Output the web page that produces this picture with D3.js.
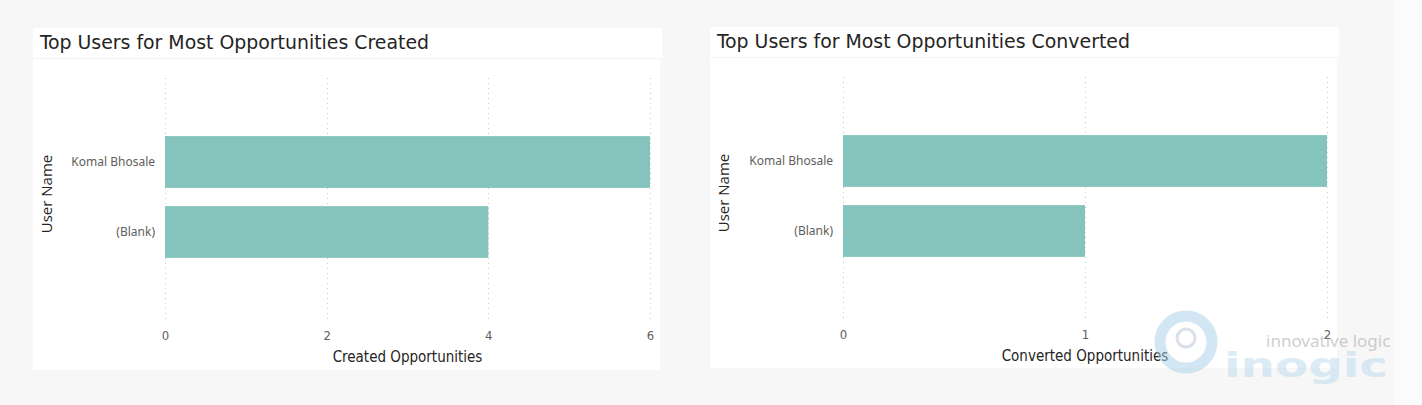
<!DOCTYPE html>
<html>
<head>
<meta charset="utf-8">
<script src="https://cdn.jsdelivr.net/npm/d3@7"></script>
<style>
  body { margin: 0; background: #f7f7f7; }
  svg { display: block; }
</style>
</head>
<body>
<svg id="chart" width="1422" height="405"></svg>
<script>
const users = ["Komal Bhosale", "(Blank)"];
const createdValues = [6, 4];
const convertedValues = [2, 1];
const createdTicks = [0, 2, 4, 6];
const convertedTicks = [0, 1, 2];

const titleFont = "'DejaVu Sans Condensed', 'Liberation Sans Narrow', sans-serif";
const labelFont = "'Noto Sans', 'Open Sans', sans-serif";
const barColor = "#85c4bd";

const svg = d3.select("#chart");

// right white strip
svg.append("rect").attr("x", 1394).attr("y", 0).attr("width", 28).attr("height", 405).attr("fill", "#fbfbfb");

function drawPanel(opts) {
  const g = svg.append("g");

  // title box + chart box
  g.append("rect").attr("x", opts.x).attr("y", opts.y).attr("width", opts.w + 2).attr("height", 30).attr("fill", "#fff");
  g.append("rect").attr("x", opts.x).attr("y", opts.y + 30).attr("width", opts.w).attr("height", opts.h - 30).attr("fill", "#fff");
  g.append("line")
    .attr("x1", opts.x).attr("x2", opts.x + opts.w)
    .attr("y1", opts.y + 30.5).attr("y2", opts.y + 30.5)
    .attr("stroke", "#f3f3f3");

  g.append("text")
    .attr("x", opts.x + 7)
    .attr("y", opts.y + 21)
    .attr("font-family", titleFont)
    .attr("font-size", 19)
    .attr("fill", "#252423")
    .attr("textLength", opts.titleLen)
    .attr("lengthAdjust", "spacingAndGlyphs")
    .text(opts.title);

  const x = d3.scaleLinear()
    .domain([0, d3.max(opts.ticks)])
    .range([opts.x0, opts.x1]);

  const y = d3.scaleBand()
    .domain(users)
    .range([opts.y + 99, opts.y + 239])
    .paddingInner(0.26)
    .paddingOuter(0.13);

  // dotted grid
  g.selectAll(".grid")
    .data(opts.ticks)
    .enter()
    .append("line")
    .attr("x1", d => Math.round(x(d)) + 0.5)
    .attr("x2", d => Math.round(x(d)) + 0.5)
    .attr("y1", opts.y + 50)
    .attr("y2", opts.y + 291)
    .attr("stroke", "#c8c8c8")
    .attr("stroke-dasharray", "1,4");

  g.selectAll(".bar")
    .data(opts.values)
    .enter()
    .append("rect")
    .attr("x", x(0))
    .attr("y", (d, i) => y(users[i]))
    .attr("width", d => x(d) - x(0))
    .attr("height", y.bandwidth())
    .attr("fill", barColor);

  const xAxis = g.append("g")
    .attr("transform", `translate(0,${opts.y + 291})`)
    .call(d3.axisBottom(x).tickValues(opts.ticks).tickSize(0).tickPadding(12).tickFormat(d3.format("d")));
  xAxis.select(".domain").remove();
  xAxis.selectAll("text")
    .attr("font-family", titleFont)
    .attr("font-size", 13)
    .attr("fill", "#605e5c");

  const yAxis = g.append("g")
    .attr("transform", `translate(${opts.x0 - 10},0)`)
    .call(d3.axisLeft(y).tickSize(0).tickPadding(0));
  yAxis.select(".domain").remove();
  yAxis.selectAll("text")
    .attr("font-family", labelFont)
    .attr("font-size", 12)
    .attr("fill", "#605e5c");

  g.append("text")
    .attr("x", (opts.x0 + opts.x1) / 2)
    .attr("y", opts.y + 334)
    .attr("text-anchor", "middle")
    .attr("font-family", titleFont)
    .attr("font-size", 15)
    .attr("fill", "#252423")
    .text(opts.xTitle);

  g.append("text")
    .attr("transform", `translate(${opts.x + 19},${opts.y + 166}) rotate(-90)`)
    .attr("text-anchor", "middle")
    .attr("font-family", "'Open Sans', 'Noto Sans', sans-serif")
    .attr("font-size", 15)
    .attr("fill", "#252423")
    .text("User Name");
}

drawPanel({
  x: 33, y: 28, w: 627, h: 342,
  x0: 165, x1: 650,
  title: "Top Users for Most Opportunities Created", titleLen: 389,
  values: createdValues, ticks: createdTicks,
  xTitle: "Created Opportunities"
});

drawPanel({
  x: 710, y: 27, w: 627, h: 341,
  x0: 843, x1: 1327,
  title: "Top Users for Most Opportunities Converted", titleLen: 413,
  values: convertedValues, ticks: convertedTicks,
  xTitle: "Converted Opportunities"
});

// watermark
const wm = svg.append("g").attr("opacity", 0.5);
wm.append("circle").attr("cx", 1186).attr("cy", 342).attr("r", 26)
  .attr("fill", "none").attr("stroke", "#a9cfea").attr("stroke-width", 11);
wm.append("circle").attr("cx", 1186).attr("cy", 338).attr("r", 9)
  .attr("fill", "none").attr("stroke", "#b4c2d4").attr("stroke-width", 3);
wm.append("text").attr("x", 1266).attr("y", 347)
  .attr("font-family", labelFont).attr("font-size", 17).attr("fill", "#a0a0a0")
  .text("innovative logic");
wm.append("text").attr("x", 1224).attr("y", 377)
  .attr("font-family", "'DejaVu Sans', sans-serif").attr("font-weight", "bold")
  .attr("font-size", 34).attr("fill", "#b8daf1")
  .attr("textLength", 164).attr("lengthAdjust", "spacingAndGlyphs")
  .text("inogic");
</script>
</body>
</html>
